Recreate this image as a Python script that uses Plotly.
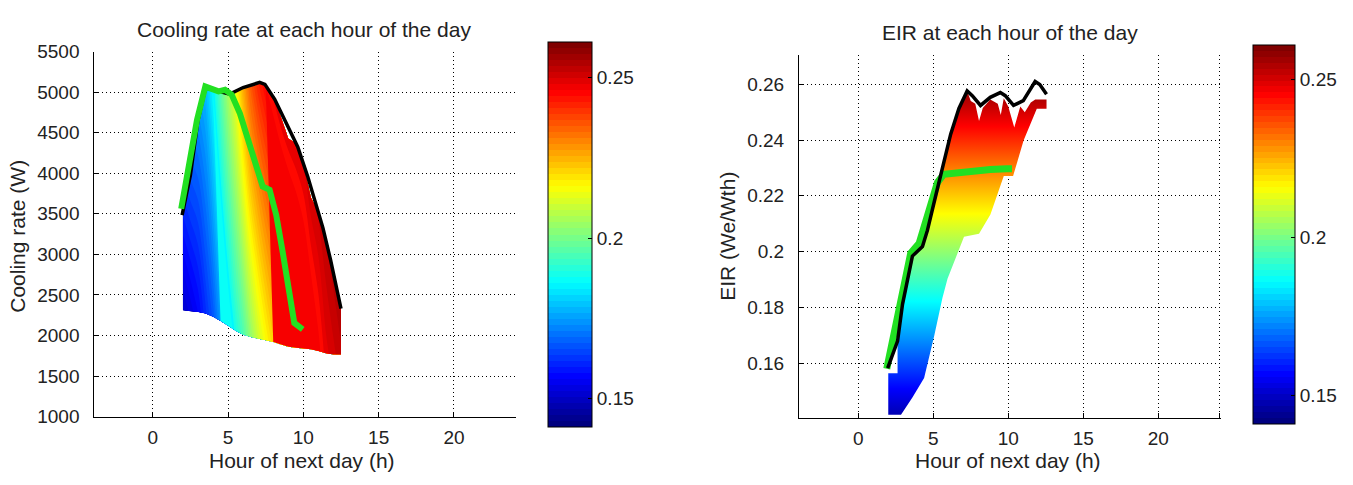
import plotly.graph_objects as go

W, H = 1353, 485
FONT = "Liberation Sans, Arial, sans-serif"
TXT = "#222222"

# ---------------- Cooling rate panel ----------------
hours = [2.0, 2.5, 3.0, 3.5, 4.0, 4.5, 5.0, 5.5, 6.0, 6.5, 7.0,
         7.5, 8.0, 8.5, 9.0, 9.5, 10.0, 10.5, 11.0, 11.5, 12.0, 12.5]
cool_top = [3500, 3980, 4650, 5050, 5030, 5000, 4980, 5000, 5060, 5090, 5110,
            5090, 4940, 4700, 4430, 4370, 4120, 3700, 3520, 3100, 2720, 2330]
cool_bottom = [2310, 2300, 2290, 2270, 2230, 2180, 2120, 2060, 2010, 1980, 1960,
               1940, 1920, 1890, 1860, 1850, 1840, 1830, 1810, 1780, 1765, 1765]
eir_at_top = [0.160, 0.166, 0.172, 0.178, 0.186, 0.196, 0.205, 0.214, 0.226, 0.236, 0.242,
              0.246, 0.248, 0.249, 0.249, 0.250, 0.250, 0.251, 0.252, 0.253, 0.254, 0.255]
eir_at_bottom = [0.150, 0.153, 0.156, 0.161, 0.166, 0.174, 0.182, 0.189, 0.195, 0.203, 0.210,
                 0.216, 0.221, 0.225, 0.229, 0.233, 0.237, 0.241, 0.245, 0.249, 0.251, 0.253]

cool_max_hours = [1.95, 2.5, 3.0, 3.5, 4.0, 4.5, 5.0, 5.25, 6.0, 7.1, 7.45, 8.1,
                  8.97, 9.63, 10.3, 10.8, 11.3, 11.8, 12.5]
cool_max = [3485, 3975, 4650, 5050, 5030, 5000, 4980, 4990, 5057, 5120, 5096, 4912,
            4580, 4325, 3954, 3640, 3327, 2937, 2330]

cool_day_hours = [1.89, 2.28, 2.5, 2.94, 3.49, 3.93, 4.37, 4.8, 5.24, 5.79, 6.45,
                  7.1, 7.3, 7.76, 8.2, 8.64, 9.08, 9.4, 9.96]
cool_day = [3562, 3954, 4227, 4658, 5069, 5040, 5009, 5029, 4970, 4736, 4345,
            3954, 3837, 3797, 3485, 3016, 2546, 2154, 2076]

# ---------------- EIR panel ----------------
eir_max_hours = [1.96, 2.62, 2.95, 3.61, 4.28, 4.61, 5.17, 5.6, 6.16, 6.71, 7.26,
                 7.6, 8.15, 8.8, 9.47, 9.8, 10.35, 11.0, 11.79, 12.1, 12.55]
eir_max = [0.1582, 0.1679, 0.1811, 0.1984, 0.2018, 0.2076, 0.2202, 0.2294, 0.2421, 0.2513, 0.2576,
           0.2559, 0.2524, 0.2553, 0.2570, 0.2559, 0.2524, 0.2541, 0.2610, 0.2599, 0.2564]

eir_day_hours = [1.9, 2.2, 2.6, 2.9, 3.2, 3.5, 4.06, 4.61, 5.0, 5.28, 5.7,
                 6.6, 7.7, 8.8, 9.9, 10.25]
eir_day = [0.1580, 0.1660, 0.1750, 0.1840, 0.1927, 0.1995, 0.2030, 0.2133, 0.2200, 0.2248, 0.2277,
           0.2283, 0.2289, 0.2294, 0.2297, 0.2297]

# surface outline: lower-left block, ragged upper edge, then lower/right boundary
eir_corner_hours = [2.0, 2.0, 2.62]
eir_corner = [0.1415, 0.1564, 0.1564]
eir_surf_top_hours = [2.62, 2.95, 3.61, 4.28, 4.61, 5.17, 5.6, 6.16, 6.71, 7.26,
                      7.5, 7.8, 8.05, 8.3, 8.8, 9.3, 9.5, 9.7, 10.0, 10.4, 10.8,
                      11.1, 11.5, 11.8, 12.55]
eir_surf_top = [0.1679, 0.1811, 0.1984, 0.2018, 0.2076, 0.2202, 0.2294, 0.2421, 0.2513, 0.2576,
                0.2540, 0.2530, 0.2468, 0.2515, 0.2545, 0.2530, 0.2490, 0.2550, 0.2520, 0.2445, 0.2520,
                0.2500, 0.2535, 0.2545, 0.2545]
eir_low_hours = [12.55, 11.9, 11.02, 10.32, 9.7, 8.81, 8.05, 7.05, 5.95, 5.61,
                 5.06, 4.39, 3.62, 2.85, 2.0]
eir_low = [0.2512, 0.2512, 0.2398, 0.2271, 0.2271, 0.2133, 0.2064, 0.2053, 0.1903, 0.1834,
           0.1697, 0.1547, 0.1478, 0.1415, 0.1415]

CMIN, CMAX = 0.141, 0.261
cbar_ticks = [0.15, 0.2, 0.25]
cbar_labels = ["0.15", "0.2", "0.25"]


def jet_rgb(t):
    clip = lambda v: max(0.0, min(1.0, v))
    r = clip(1.5 - abs(4 * t - 3))
    g = clip(1.5 - abs(4 * t - 2))
    b = clip(1.5 - abs(4 * t - 1))
    return "rgb(%d,%d,%d)" % (round(r * 255), round(g * 255), round(b * 255))


JET = [[s, jet_rgb(s)] for s in (0, 0.125, 0.25, 0.375, 0.5, 0.625, 0.75, 0.875, 1)]
JET64 = []
for i in range(64):
    c = jet_rgb(i / 63)
    JET64.append([i / 64, c])
    JET64.append([(i + 1) / 64, c])

fig = go.Figure()

# surface of the cooling-rate panel on a curvilinear grid
hidden = dict(showgrid=False, showline=False, showticklabels="none",
              startline=False, endline=False, minorgridcount=0, smoothing=0,
              gridcolor="rgba(0,0,0,0)", linecolor="rgba(0,0,0,0)")
idx = list(range(len(hours)))
fig.add_trace(go.Carpet(carpet="cool", a=idx, b=[0, 1],
                        x=[hours, hours], y=[cool_bottom, cool_top],
                        aaxis=hidden, baxis=hidden, xaxis="x", yaxis="y"))
fig.add_trace(go.Contourcarpet(carpet="cool", a=idx, b=[0, 1],
                               z=[eir_at_bottom, eir_at_top],
                               autocontour=False,
                               contours=dict(coloring="fill", start=CMIN, end=CMAX,
                                             size=(CMAX - CMIN) / 64, showlines=False),
                               line=dict(width=0), colorscale=JET, zauto=False,
                               zmin=CMIN, zmax=CMAX, showscale=False,
                               xaxis="x", yaxis="y"))
fig.add_trace(go.Scatter(x=cool_max_hours, y=cool_max, mode="lines",
                         line=dict(color="black", width=3.5), xaxis="x", yaxis="y",
                         hoverinfo="skip"))
fig.add_trace(go.Scatter(x=cool_day_hours, y=cool_day, mode="lines",
                         line=dict(color="#22e022", width=6), xaxis="x", yaxis="y",
                         hoverinfo="skip"))

# surface of the EIR panel, coloured by its own value
poly_h = eir_corner_hours + eir_surf_top_hours + eir_low_hours
poly_v = eir_corner + eir_surf_top + eir_low
fig.add_trace(go.Scatter(x=poly_h, y=poly_v, mode="lines", fill="toself",
                         line=dict(width=0, color="rgba(0,0,0,0)"),
                         fillgradient=dict(type="vertical", colorscale=JET,
                                           start=CMIN, stop=CMAX),
                         xaxis="x2", yaxis="y2", hoverinfo="skip"))
fig.add_trace(go.Scatter(x=eir_day_hours, y=eir_day, mode="lines",
                         line=dict(color="#22e022", width=7), xaxis="x2", yaxis="y2",
                         hoverinfo="skip"))
fig.add_trace(go.Scatter(x=eir_max_hours, y=eir_max, mode="lines",
                         line=dict(color="black", width=3.5), xaxis="x2", yaxis="y2",
                         hoverinfo="skip"))


def colorbar(left_px, top_px, bottom_px, thick):
    return dict(x=left_px / W, xanchor="left", xpad=0, ypad=0,
                y=1 - (top_px + bottom_px) / 2 / H, yanchor="middle",
                lenmode="pixels", len=bottom_px - top_px, thickness=thick,
                outlinecolor="black", outlinewidth=1,
                tickvals=cbar_ticks, ticktext=cbar_labels, ticks="inside",
                ticklen=4, tickcolor="black",
                tickfont=dict(family=FONT, size=19, color=TXT))


fig.add_trace(go.Scatter(x=hours, y=cool_bottom, mode="markers", xaxis="x", yaxis="y",
                         marker=dict(color=eir_at_bottom, colorscale=JET64, cmin=CMIN,
                                     cmax=CMAX, opacity=0, size=1, showscale=True,
                                     colorbar=colorbar(548, 42.5, 427.5, 44)),
                         hoverinfo="skip"))
fig.add_trace(go.Scatter(x=eir_max_hours, y=eir_max, mode="markers", xaxis="x2", yaxis="y2",
                         marker=dict(color=eir_max, colorscale=JET64, cmin=CMIN,
                                     cmax=CMAX, opacity=0, size=1, showscale=True,
                                     colorbar=colorbar(1253, 45, 423.5, 42)),
                         hoverinfo="skip"))

axis_common = dict(showgrid=True, gridcolor="black", gridwidth=1, griddash="1px,3px",
                   showline=True, linecolor="black", linewidth=1, ticks="inside",
                   ticklen=5, tickcolor="black", zeroline=False, mirror=False,
                   tickfont=dict(family=FONT, size=19, color=TXT))

fig.update_layout(
    width=W, height=H, margin=dict(l=0, r=0, t=0, b=0),
    paper_bgcolor="white", plot_bgcolor="white", showlegend=False,
    xaxis=dict(axis_common, domain=[94.3 / W, 516 / W], range=[-3.88, 24.12],
               tickvals=[0, 5, 10, 15, 20], anchor="y", ticklabelstandoff=4),
    yaxis=dict(axis_common, domain=[1 - 425 / H, 1 - 43.5 / H], range=[1000, 5500],
               tickvals=[1000, 1500, 2000, 2500, 3000, 3500, 4000, 4500, 5000, 5500],
               anchor="x", ticklabelstandoff=10),
    xaxis2=dict(axis_common, domain=[799 / W, 1220.7 / W], range=[-3.95, 24.16],
                tickvals=[0, 5, 10, 15, 20, 24.06], ticktext=["0", "5", "10", "15", "20", ""],
                anchor="y2", ticklabelstandoff=4),
    yaxis2=dict(axis_common, domain=[1 - 426 / H, 1 - 46.7 / H], range=[0.1405, 0.2706],
                tickvals=[0.16, 0.18, 0.2, 0.22, 0.24, 0.26],
                ticktext=["0.16", "0.18", "0.2", "0.22", "0.24", "0.26"],
                anchor="x2", ticklabelstandoff=10),
)


def label(text, x_px, y_px, angle=0, size=21):
    fig.add_annotation(text=text, x=x_px / W, y=1 - y_px / H, xref="paper", yref="paper",
                       xanchor="center", yanchor="middle", showarrow=False,
                       textangle=angle, font=dict(family=FONT, size=size, color=TXT))


label("Cooling rate at each hour of the day", 304, 20)
label("EIR at each hour of the day", 1010, 24)
label("Hour of next day (h)", 302, 471)
label("Hour of next day (h)", 1008, 471)
label("Cooling rate (W)", 18, 237, angle=-90)
label("EIR (We/Wth)", 728, 237, angle=-90)

fig.write_html("out.html")
